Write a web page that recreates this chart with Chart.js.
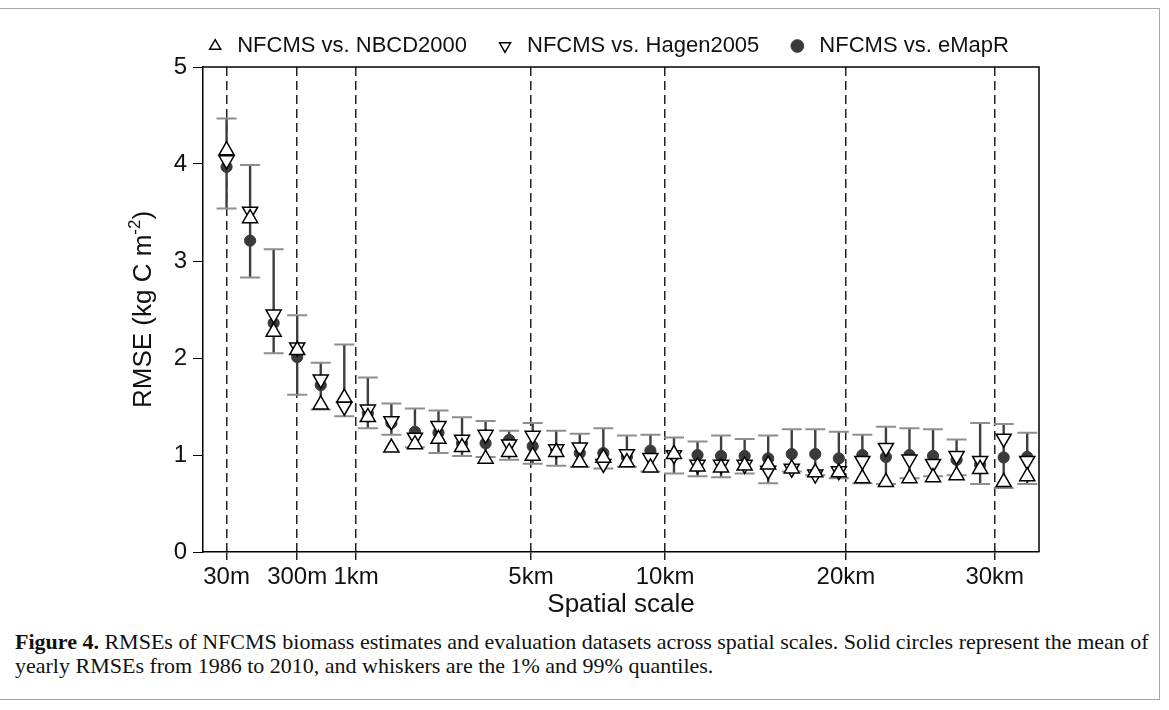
<!DOCTYPE html>
<html>
<head>
<meta charset="utf-8">
<script src="https://cdn.jsdelivr.net/npm/chart.js@4.4.0/dist/chart.umd.min.js"></script>
<style>
  html, body { margin: 0; padding: 0; background: #fff; }
  #wrap { position: relative; width: 1169px; height: 710px; overflow: hidden; }
  #frame { position: absolute; left: -1px; top: 8px; width: 1161px; height: 692px; border: 1px solid #a8a8a8; box-sizing: border-box; }
  #chartBox { position: absolute; left: 0; top: 0; width: 1169px; height: 620px; }
  #caption { position: absolute; left: 15px; top: 630px; width: 1150px; white-space: nowrap; font-family: "Liberation Serif", "Times New Roman", serif; font-size: 22px; line-height: 24px; color: #111; }
</style>
</head>
<body>
<div id="wrap">
  <div id="frame"></div>
  <div id="chartBox"><canvas id="myChart" width="1169" height="620"></canvas></div>
  <div id="caption"><b>Figure 4.</b> RMSEs of NFCMS biomass estimates and evaluation datasets across spatial scales. Solid circles represent the mean of<br>yearly RMSEs from 1986 to 2010, and whiskers are the 1% and 99% quantiles.</div>
</div>
<script>
// posição de cada escala espacial no eixo x (índice da escala)
var scalePos = [0, 1, 2, 3, 4, 5, 6, 7, 8, 9, 10, 11, 12, 13, 14, 15, 16, 17,
  18, 19, 20, 21, 22, 23, 24, 25, 26, 27, 28, 29, 30, 31, 32, 33, 34];

// rótulos do eixo x e onde ficam (linhas tracejadas)
var tickPos = [0, 3, 5.5, 12.93, 18.62, 26.3, 32.62];
var tickLabels = ['30m', '300m', '1km', '5km', '10km', '20km', '30km'];

// NFCMS vs. NBCD2000 (triângulo para cima)
var nbcd = [4.14, 3.44, 2.27, 2.08, 1.52, 1.59, 1.39, 1.075, 1.11, 1.165, 1.08, 0.96,
  1.03, 0.99, 1.03, 0.925, 0.97, 0.925, 0.87, 1.01, 0.88, 0.87, 0.89, 0.90, 0.86,
  0.82, 0.82, 0.76, 0.72, 0.76, 0.77, 0.79, 0.855, 0.72, 0.78];

// NFCMS vs. Hagen2005 (triângulo para baixo)
var hagen = [4.04, 3.51, 2.45, 2.11, 1.78, 1.50, 1.47, 1.35, 1.18, 1.30, 1.16, 1.21,
  1.11, 1.20, 1.06, 1.08, 0.91, 1.01, 0.97, 1.00, 0.90, 0.90, 0.90, 0.84, 0.86,
  0.80, 0.835, 0.94, 1.075, 0.955, 0.91, 0.99, 0.94, 1.17, 0.94];

// NFCMS vs. eMapR: média e quantis 1% / 99%
var emapr = [3.97, 3.21, 2.36, 2.01, 1.72, 1.55, 1.43, 1.33, 1.24, 1.23, 1.12, 1.12,
  1.155, 1.09, 1.05, 1.02, 1.02, 0.98, 1.045, 1.00, 1.00, 0.99, 0.99, 0.965, 1.01,
  1.01, 0.965, 1.00, 0.98, 1.00, 0.99, 0.95, 0.90, 0.975, 0.98];
var emaprLow = [3.54, 2.83, 2.05, 1.62, 1.47, 1.40, 1.275, 1.21, 1.08, 1.02, 0.99, 0.98,
  0.95, 0.91, 0.89, 0.88, 0.86, 0.88, 0.83, 0.81, 0.78, 0.77, 0.81, 0.71, 0.83,
  0.79, 0.76, 0.71, 0.70, 0.76, 0.78, 0.79, 0.70, 0.66, 0.70];
var emaprHigh = [4.47, 3.99, 3.12, 2.44, 1.95, 2.14, 1.80, 1.53, 1.48, 1.46, 1.39, 1.35,
  1.25, 1.33, 1.25, 1.22, 1.275, 1.20, 1.21, 1.18, 1.14, 1.20, 1.165, 1.20, 1.265,
  1.265, 1.24, 1.21, 1.29, 1.275, 1.265, 1.16, 1.33, 1.32, 1.23];

var yTicks = [0, 1, 2, 3, 4, 5];

function pts(vals) {
  return scalePos.map(function(x, i) { return {x: x, y: vals[i]}; });
}

var fontFamily = '"Liberation Sans", Arial, Helvetica, sans-serif';

// Desenha os bigodes (quantis) antes dos pontos
var whiskers = {
  id: 'whiskers',
  beforeDatasetsDraw: function(chart) {
    var ctx = chart.ctx;
    var xs = chart.scales.x, ys = chart.scales.y;
    ctx.save();
    for (var i = 0; i < scalePos.length; i++) {
      var px = xs.getPixelForValue(scalePos[i]);
      var top = ys.getPixelForValue(emaprHigh[i]);
      var bot = ys.getPixelForValue(emaprLow[i]);
      ctx.strokeStyle = '#3e3e3e';
      ctx.lineWidth = 2.4;
      ctx.beginPath();
      ctx.moveTo(px, top);
      ctx.lineTo(px, bot);
      ctx.stroke();
      ctx.strokeStyle = '#8e8e8e';
      ctx.lineWidth = 2;
      ctx.beginPath();
      ctx.moveTo(px - 10, top); ctx.lineTo(px + 10, top);
      ctx.moveTo(px - 10, bot); ctx.lineTo(px + 10, bot);
      ctx.stroke();
    }
    ctx.restore();
  }
};

// Caixa do gráfico (topo e direita) e título do eixo y com expoente
var boxAndTitle = {
  id: 'boxAndTitle',
  afterDraw: function(chart) {
    var ctx = chart.ctx;
    var a = chart.chartArea;
    ctx.save();
    ctx.strokeStyle = '#000';
    ctx.lineWidth = 1.5;
    ctx.beginPath();
    ctx.moveTo(a.left, a.top);
    ctx.lineTo(a.right, a.top);
    ctx.lineTo(a.right, a.bottom);
    ctx.stroke();

    var cy = (a.top + a.bottom) / 2;
    ctx.translate(151, cy);
    ctx.rotate(-Math.PI / 2);
    ctx.fillStyle = '#111';
    ctx.textBaseline = 'alphabetic';
    var big = '26px ' + fontFamily;
    var small = '17px ' + fontFamily;
    ctx.font = big;
    var w1 = ctx.measureText('RMSE (kg C m').width;
    var w3 = ctx.measureText(')').width;
    ctx.font = small;
    var w2 = ctx.measureText('-2').width;
    var x0 = -(w1 + w2 + w3) / 2;
    ctx.font = big;
    ctx.fillText('RMSE (kg C m', x0, 0);
    ctx.font = small;
    ctx.fillText('-2', x0 + w1, -11);
    ctx.font = big;
    ctx.fillText(')', x0 + w1 + w2, 0);
    ctx.restore();
  }
};

var ctx = document.getElementById('myChart').getContext('2d');

var myChart = new Chart(ctx, {
  type: 'scatter',
  data: {
    datasets: [{
      label: 'NFCMS vs. NBCD2000',
      data: pts(nbcd),
      pointStyle: 'triangle',
      pointRadius: 8.7,
      pointHoverRadius: 8.7,
      borderWidth: 1.5,
      borderColor: '#000',
      backgroundColor: '#fff'
    }, {
      label: 'NFCMS vs. Hagen2005',
      data: pts(hagen),
      pointStyle: 'triangle',
      pointRotation: 180,
      pointRadius: 8.7,
      pointHoverRadius: 8.7,
      borderWidth: 1.5,
      borderColor: '#000',
      backgroundColor: '#fff'
    }, {
      label: 'NFCMS vs. eMapR',
      data: pts(emapr),
      pointStyle: 'circle',
      pointRadius: 5.6,
      pointHoverRadius: 5.6,
      borderWidth: 1,
      borderColor: '#3a3a3a',
      backgroundColor: '#3a3a3a'
    }]
  },
  options: {
    responsive: false,
    animation: false,
    layout: {
      padding: {left: 174, right: 130, top: 8, bottom: 0}
    },
    plugins: {
      legend: {
        display: true,
        position: 'top',
        labels: {
          usePointStyle: true,
          boxHeight: 9,
          padding: 27,
          color: '#111',
          font: {family: fontFamily, size: 22}
        }
      },
      tooltip: {enabled: false}
    },
    scales: {
      x: {
        type: 'linear',
        min: -1,
        max: 34.5,
        afterBuildTicks: function(scale) {
          scale.ticks = tickPos.map(function(v) { return {value: v}; });
        },
        afterFit: function(scale) { scale.height = 68; },
        ticks: {
          autoSkip: false,
          maxRotation: 0,
          padding: 3,
          color: '#111',
          font: {family: fontFamily, size: 24}
        ,
          callback: function(value) {
            var i = tickPos.indexOf(value);
            return i >= 0 ? tickLabels[i] : '';
          }
        },
        grid: {
          color: '#222',
          lineWidth: 1.5,
          tickLength: 8,
          tickColor: '#222'
        },
        border: {display: true, color: '#000', width: 1.5, dash: [9, 5]},
        title: {
          display: true,
          text: 'Spatial scale',
          color: '#111',
          padding: {top: 0, bottom: 0},
          font: {family: fontFamily, size: 26}
        }
      },
      y: {
        min: 0,
        max: 5,
        afterBuildTicks: function(scale) {
          scale.ticks = yTicks.map(function(v) { return {value: v}; });
        },
        afterFit: function(scale) { scale.width = 29; },
        ticks: {
          padding: 6,
          color: '#111',
          font: {family: fontFamily, size: 24}
        },
        grid: {
          drawOnChartArea: false,
          drawTicks: true,
          tickLength: 10,
          tickColor: '#000'
        },
        border: {display: true, color: '#000', width: 1.5}
      }
    }
  },
  plugins: [whiskers, boxAndTitle]
});
</script>
</body>
</html>
